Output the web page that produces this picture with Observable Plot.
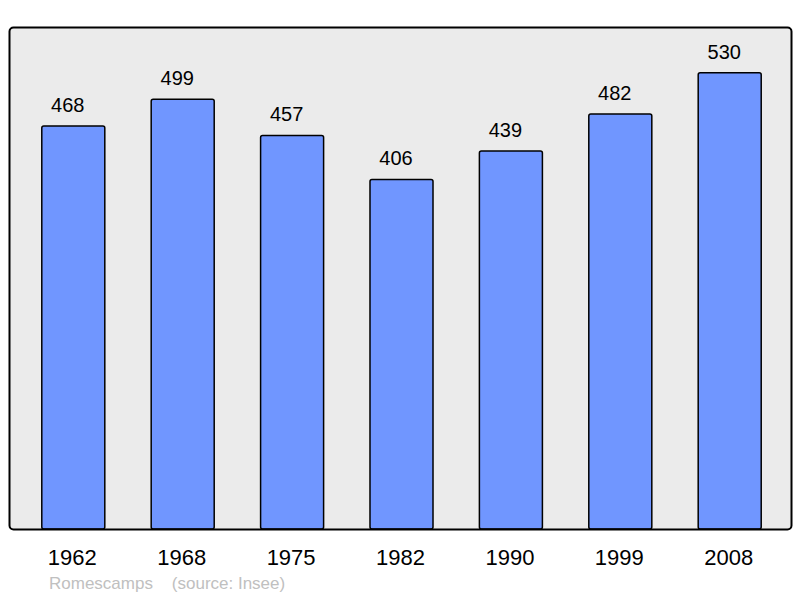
<!DOCTYPE html>
<html>
<head>
<meta charset="utf-8">
<script src="https://cdn.jsdelivr.net/npm/d3@7"></script>
<script src="https://cdn.jsdelivr.net/npm/@observablehq/plot@0.6"></script>
<style>
  body { margin: 0; background: white; font-family: "Liberation Sans", Arial, sans-serif; }
  #caption { font-size: 17px; line-height: 20px; color: #c0c0c0; padding-left: 49px; margin-top: 0; white-space: pre; }
</style>
</head>
<body>
<div id="chart"></div>
<div id="caption">Romescamps    (source: Insee)</div>
<script>
const years = ["1962", "1968", "1975", "1982", "1990", "1999", "2008"];
const population = [468, 499, 457, 406, 439, 482, 530];

const data = years.map((y, i) => ({year: y, pop: population[i]}));

const chart = Plot.plot({
  width: 800,
  height: 574,
  marginLeft: 9,
  marginRight: 9,
  marginTop: 27,
  marginBottom: 45,
  style: {fontFamily: "Liberation Sans, Arial, sans-serif", background: "white", color: "black"},
  x: {domain: years, paddingInner: 0.424, paddingOuter: 0.286, round: false, label: null, tickSize: 0, tickPadding: 20, fontSize: 22},
  y: {domain: [0, 583], axis: null},
  marks: [
    Plot.frame({fill: "#ebebeb", stroke: "none", rx: 4}),
    Plot.barY(data, {x: "year", y: "pop", fill: "#7096ff", stroke: "black", strokeWidth: 1.5, rx: 2, dx: 1.5}),
    Plot.text(data, {x: "year", y: "pop", text: d => String(d.pop), dy: -21, dx: -4.5, fontSize: 20, fill: "black"}),
    Plot.frame({stroke: "black", strokeWidth: 2, rx: 4}),
    Plot.axisX({fontSize: 22, tickSize: 0, tickPadding: 20, label: null, dx: 0})
  ]
});
document.getElementById("chart").appendChild(chart);
</script>
</body>
</html>
